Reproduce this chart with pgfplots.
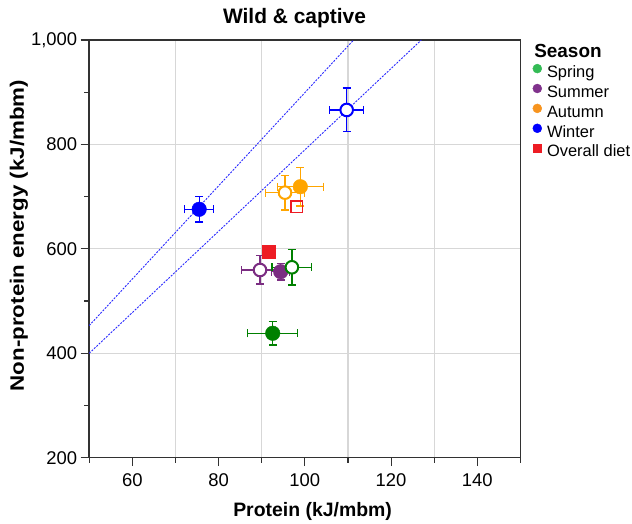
\documentclass[border=0pt]{standalone}
\usepackage{pgfplots}
\pgfplotsset{compat=1.18}
\usepackage{pgfplotstable}
\usepackage{fontspec}
\setmainfont{Liberation Sans}

\definecolor{grn}{RGB}{0,128,0}
\definecolor{pur}{RGB}{123,45,130}
\definecolor{ora}{RGB}{255,165,0}
\definecolor{blu}{RGB}{0,0,255}
\definecolor{rd}{RGB}{237,28,36}
\definecolor{lgrn}{RGB}{51,187,85}
\definecolor{lpur}{RGB}{128,50,140}
\definecolor{lora}{RGB}{247,148,30}
\definecolor{gridgray}{RGB}{215,215,215}
\definecolor{axcol}{RGB}{50,50,50}
\definecolor{lineblue}{RGB}{40,40,255}

\pgfplotstableread{
x y ex ey
92.55 438.3 5.8 22.4
}\springwild
\pgfplotstableread{
x y ex ey
97.0 564.7 4.6 34
}\springcapt
\pgfplotstableread{
x y ex ey
94.4 556.3 2.1 16
}\summerwild
\pgfplotstableread{
x y ex ey
89.6 559.5 4.2 27
}\summercapt
\pgfplotstableread{
x y ex ey
98.95 719 5.3 37
}\autumnwild
\pgfplotstableread{
x y ex ey
95.4 707.6 4.6 33
}\autumncapt
\pgfplotstableread{
x y ex ey
75.5 675.8 3.4 24.3
}\winterwild
\pgfplotstableread{
x y ex ey
109.7 866 3.9 42
}\wintercapt
\pgfplotstableread{
x y
91.6 594
}\overallwild
\pgfplotstableread{
x y
98.1 680.8
}\overallcapt

\pgfplotsset{
  eb/.style={error bars/.cd, x dir=both, x explicit, y dir=both, y explicit,
    error bar style={line width=1.2bp, solid, draw=#1},
    error mark options={rotate=90, mark size=4bp, line width=1.2bp, draw=#1}},
}

\begin{document}
\begin{tikzpicture}
\begin{axis}[
  name=ax,
  scale only axis, width=431.3bp, height=417.7bp,
  xmin=50, xmax=150, ymin=200, ymax=1000,
  xtick={60,80,...,140}, minor xtick={50,70,...,150},
  ytick={200,400,...,1000}, minor ytick={300,500,...,900},
  xminorgrids=true, xmajorgrids=false, ymajorgrids=true,
  grid style={draw=gridgray, line width=1.2bp},
  minor grid style={draw=gridgray, line width=1.2bp},
  tick align=outside, tick pos=left,
  major tick length=8.5bp, minor tick length=5bp,
  every tick/.style={draw=axcol, line width=1.2bp},
  every minor tick/.style={draw=axcol, line width=1.2bp},
  axis line style={draw=axcol, line width=1.5bp},
  /pgf/number format/assume math mode=true,
  /pgf/number format/1000 sep={,},
  ticklabel style={font=\fontsize{18.5}{22}\selectfont},
  xticklabel style={yshift=-4bp},
  title={Wild \& captive},
  every axis title/.style={at={(axis description cs:0.476,1)}, anchor=base, yshift=16bp, font=\fontsize{21}{25}\selectfont\bfseries},
  xlabel={Protein (kJ/mbm)},
  every axis x label/.style={at={(axis description cs:0.518,0)}, anchor=base, yshift=-58.3bp, font=\fontsize{19.5}{23}\selectfont\bfseries},
  ylabel={\scalebox{1.15}[1]{Non-protein energy (kJ/mbm)}},
  every axis y label/.style={at={(axis description cs:-0.163,0.532)}, rotate=90, anchor=center, font=\fontsize{19.5}{23}\selectfont\bfseries},
  clip=true,
  legend style={at={(1,1)}, anchor=north west, xshift=12.3bp, yshift=-5.7bp, draw=none, fill=none,
    inner sep=0pt, outer sep=0pt, row sep=2.4bp,
    font=\fontsize{16.5}{19.8}\selectfont,
    nodes={inner sep=0pt, text height=12bp, text depth=4bp, anchor=west},
    /tikz/every odd column/.append style={column sep=5.2bp}},
  legend cell align=left,
  legend image code/.code={\draw[#1] plot coordinates {(4.5bp,5bp)};},
]
% reference lines
\addplot[lineblue, line width=0.9bp, dash pattern=on 2bp off 1.3bp, forget plot, no markers] coordinates {(50,453) (111.3,1000)};
\addplot[lineblue, line width=0.9bp, dash pattern=on 2bp off 1.3bp, forget plot, no markers] coordinates {(50,400) (127,1000)};

% data
\addplot[pur, only marks, mark=*, mark size=6.3bp, mark options={fill=white, draw=pur, line width=2bp}, forget plot, eb=pur]
  table[x=x, y=y, x error=ex, y error=ey] {\summercapt};
\addplot[pur, only marks, mark=*, mark size=7.3bp, mark options={fill=pur, draw=pur}, forget plot, eb=pur]
  table[x=x, y=y, x error=ex, y error=ey] {\summerwild};
\addplot[grn, only marks, mark=*, mark size=7.3bp, mark options={fill=grn, draw=grn}, forget plot, eb=grn]
  table[x=x, y=y, x error=ex, y error=ey] {\springwild};
\addplot[grn, only marks, mark=*, mark size=6.3bp, mark options={fill=white, draw=grn, line width=2bp}, forget plot, eb=grn]
  table[x=x, y=y, x error=ex, y error=ey] {\springcapt};
\addplot[ora, only marks, mark=*, mark size=6.3bp, mark options={fill=white, draw=ora, line width=2bp}, forget plot, eb=ora]
  table[x=x, y=y, x error=ex, y error=ey] {\autumncapt};
\addplot[ora, only marks, mark=*, mark size=7.3bp, mark options={fill=ora, draw=ora}, forget plot, eb=ora]
  table[x=x, y=y, x error=ex, y error=ey] {\autumnwild};
\addplot[blu, only marks, mark=*, mark size=7.3bp, mark options={fill=blu, draw=blu}, forget plot, eb=blu]
  table[x=x, y=y, x error=ex, y error=ey] {\winterwild};
\addplot[blu, only marks, mark=*, mark size=6.3bp, mark options={fill=white, draw=blu, line width=2bp}, forget plot, eb=blu]
  table[x=x, y=y, x error=ex, y error=ey] {\wintercapt};
\addplot[rd, only marks, mark=square*, mark size=6.5bp, mark options={fill=rd, draw=rd, line width=0.1bp}, forget plot]
  table[x=x, y=y] {\overallwild};
\addplot[rd, only marks, mark=square, mark size=5.7bp, mark options={fill=white, draw=rd, line width=1.6bp}, forget plot]
  table[x=x, y=y] {\overallcapt};

% legend
\addlegendimage{empty legend}
\addlegendentry{\hspace*{-12.7bp}\fontsize{19}{22}\selectfont\bfseries Season}
\addlegendimage{only marks, mark=*, mark size=4.5bp, color=lgrn}
\addlegendentry{Spring}
\addlegendimage{only marks, mark=*, mark size=4.5bp, color=lpur}
\addlegendentry{Summer}
\addlegendimage{only marks, mark=*, mark size=4.5bp, color=lora}
\addlegendentry{Autumn}
\addlegendimage{only marks, mark=*, mark size=4.5bp, color=blu}
\addlegendentry{Winter}
\addlegendimage{only marks, mark=square*, mark size=4.2bp, color=rd}
\addlegendentry{Overall diet}
\end{axis}
\pgfresetboundingbox
\path[use as bounding box] ([xshift=-89.2bp,yshift=-66.3bp]ax.south west) rectangle ++(632bp,524bp);
\end{tikzpicture}
\end{document}
